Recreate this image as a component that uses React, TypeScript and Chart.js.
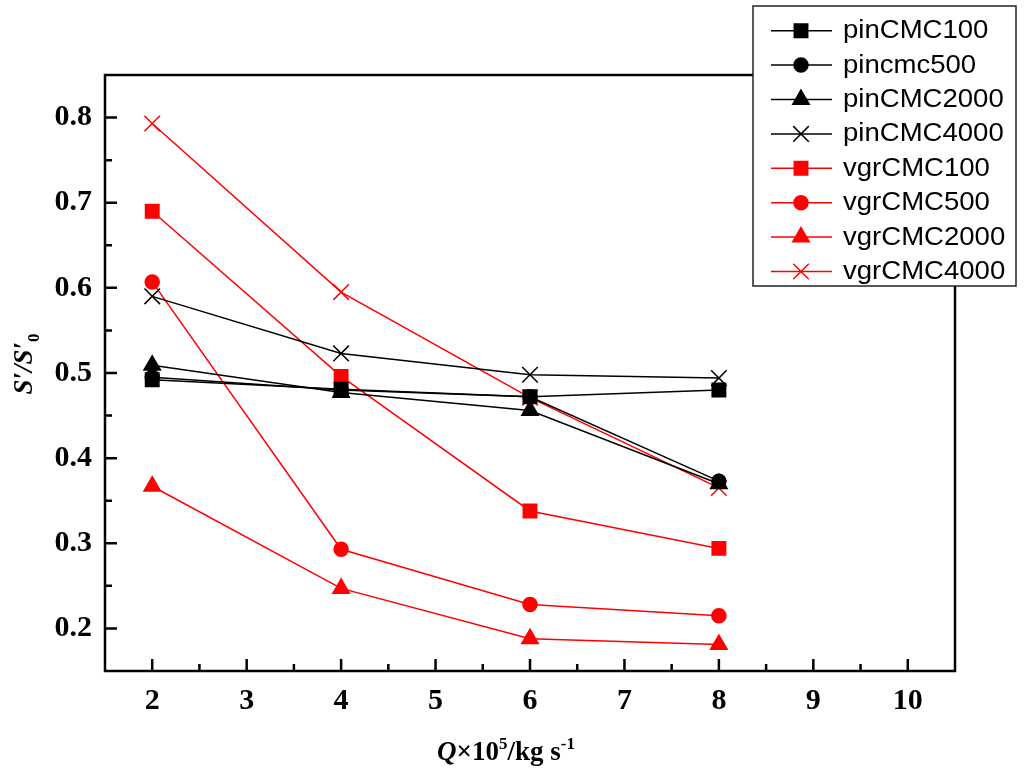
import { useEffect, useRef } from "react";

import { Chart, registerables, type Plugin } from "chart.js";
import { drawPoint } from "chart.js/helpers";

Chart.register(...registerables);

// flow rate Q x 10^5 (kg/s)
const flowRates = [2, 4, 6, 8];

// S'/S'0
const pinCMC100 = [0.492, 0.481, 0.472, 0.48];
const pincmc500 = [0.495, 0.48, 0.472, 0.373];
const pinCMC2000 = [0.509, 0.477, 0.456, 0.37];
const pinCMC4000 = [0.59, 0.523, 0.498, 0.494];
const vgrCMC100 = [0.69, 0.496, 0.338, 0.294];
const vgrCMC500 = [0.607, 0.293, 0.228, 0.215];
const vgrCMC2000 = [0.367, 0.247, 0.188, 0.181];
const vgrCMC4000 = [0.793, 0.595, 0.471, 0.365];

const xTickValues = [2, 3, 4, 5, 6, 7, 8, 9, 10];
const yTickValues = [0.2, 0.3, 0.4, 0.5, 0.6, 0.7, 0.8];

const BLACK = "#000000";
const RED = "#ff0000";

type Marker = "rect" | "circle" | "triangle" | "crossRot";

const markerRadius: Record<Marker, number> = {
  rect: 9.5,
  circle: 7,
  triangle: 9.5,
  crossRot: 11,
};

const series: { label: string; data: number[]; color: string; marker: Marker }[] = [
  { label: "pinCMC100", data: pinCMC100, color: BLACK, marker: "rect" },
  { label: "pincmc500", data: pincmc500, color: BLACK, marker: "circle" },
  { label: "pinCMC2000", data: pinCMC2000, color: BLACK, marker: "triangle" },
  { label: "pinCMC4000", data: pinCMC4000, color: BLACK, marker: "crossRot" },
  { label: "vgrCMC100", data: vgrCMC100, color: RED, marker: "rect" },
  { label: "vgrCMC500", data: vgrCMC500, color: RED, marker: "circle" },
  { label: "vgrCMC2000", data: vgrCMC2000, color: RED, marker: "triangle" },
  { label: "vgrCMC4000", data: vgrCMC4000, color: RED, marker: "crossRot" },
];

const SERIF = "'Liberation Serif', 'Times New Roman', serif";
const SANS = "'Liberation Sans', Arial, sans-serif";

type Run = { t: string; font: string; dy?: number };

function drawRuns(ctx: CanvasRenderingContext2D, runs: Run[], x: number, y: number, center = false) {
  let width = 0;
  for (const r of runs) {
    ctx.font = r.font;
    width += ctx.measureText(r.t).width;
  }
  let cx = center ? x - width / 2 : x;
  ctx.textAlign = "left";
  ctx.textBaseline = "alphabetic";
  for (const r of runs) {
    ctx.font = r.font;
    ctx.fillText(r.t, cx, y + (r.dy ?? 0));
    cx += ctx.measureText(r.t).width;
  }
}

const framePlugin: Plugin<"line"> = {
  id: "frameTicksTitlesLegend",
  afterDraw(chart) {
    const { ctx, chartArea } = chart;
    const { left, right, top, bottom } = chartArea;
    const xs = chart.scales.x;
    const ys = chart.scales.y;

    ctx.save();
    ctx.strokeStyle = BLACK;
    ctx.fillStyle = BLACK;

    // inward tick marks
    ctx.lineWidth = 2.5;
    ctx.beginPath();
    xTickValues.forEach((v, i) => {
      const px = xs.getPixelForValue(v);
      ctx.moveTo(px, bottom);
      ctx.lineTo(px, bottom - 12);
      if (i < xTickValues.length - 1) {
        const mx = xs.getPixelForValue((v + xTickValues[i + 1]) / 2);
        ctx.moveTo(mx, bottom);
        ctx.lineTo(mx, bottom - 7);
      }
    });
    yTickValues.forEach((v, i) => {
      const py = ys.getPixelForValue(v);
      ctx.moveTo(left, py);
      ctx.lineTo(left + 12, py);
      if (i < yTickValues.length - 1) {
        const my = ys.getPixelForValue((v + yTickValues[i + 1]) / 2);
        ctx.moveTo(left, my);
        ctx.lineTo(left + 7, my);
      }
    });
    ctx.stroke();

    // frame
    ctx.lineWidth = 2.5;
    ctx.strokeRect(left, top, right - left, bottom - top);

    // axis titles
    drawRuns(
      ctx,
      [
        { t: "Q", font: `italic bold 27px ${SERIF}` },
        { t: "×10", font: `bold 27px ${SERIF}` },
        { t: "5", font: `bold 17px ${SERIF}`, dy: -11 },
        { t: "/kg s", font: `bold 27px ${SERIF}` },
        { t: "-1", font: `bold 17px ${SERIF}`, dy: -11 },
      ],
      506,
      760,
      true,
    );

    ctx.save();
    ctx.translate(32, 364);
    ctx.rotate(-Math.PI / 2);
    drawRuns(
      ctx,
      [
        { t: "S′/S′", font: `italic bold 27px ${SERIF}` },
        { t: "0", font: `bold 17px ${SERIF}`, dy: 7 },
      ],
      0,
      0,
      true,
    );
    ctx.restore();

    // legend box
    const bx = 753;
    const by = 6;
    const bw = 263;
    const bh = 280;
    ctx.fillStyle = "#ffffff";
    ctx.fillRect(bx, by, bw, bh);
    ctx.strokeStyle = "#222222";
    ctx.lineWidth = 1.5;
    ctx.strokeRect(bx, by, bw, bh);

    series.forEach((s, i) => {
      const ry = 30.7 + i * 34.4;
      ctx.strokeStyle = s.color;
      ctx.fillStyle = s.color;
      ctx.lineWidth = 1.5;
      ctx.beginPath();
      ctx.moveTo(771, ry);
      ctx.lineTo(832, ry);
      ctx.stroke();
      drawPoint(
        ctx,
        { pointStyle: s.marker, radius: markerRadius[s.marker], rotation: 0, borderWidth: 1.5 },
        801,
        ry,
      );
      ctx.save();
      ctx.fillStyle = BLACK;
      ctx.font = `25.5px ${SANS}`;
      ctx.textAlign = "left";
      ctx.textBaseline = "middle";
      ctx.translate(843, ry + 0.5);
      ctx.scale(1.08, 1);
      ctx.fillText(s.label, 0, 0);
      ctx.restore();
    });

    ctx.restore();
  },
};

function SlipRatioChart() {
  const canvasRef = useRef<HTMLCanvasElement>(null);
  const chartRef = useRef<Chart<"line"> | null>(null);

  useEffect(() => {
    if (!canvasRef.current) return;
    if (chartRef.current) chartRef.current.destroy();

    chartRef.current = new Chart(canvasRef.current, {
      type: "line",
      data: {
        datasets: series.map((s) => ({
          label: s.label,
          data: flowRates.map((x, i) => ({ x, y: s.data[i] })),
          borderColor: s.color,
          backgroundColor: s.color,
          borderWidth: 1.5,
          pointStyle: s.marker,
          pointRadius: markerRadius[s.marker],
          pointBorderWidth: 1.5,
          pointBorderColor: s.color,
          pointBackgroundColor: s.color,
          tension: 0,
          fill: false,
        })),
      },
      options: {
        responsive: true,
        maintainAspectRatio: false,
        animation: false,
        layout: { padding: { top: 75, right: 69, left: 0, bottom: 0 } },
        plugins: {
          legend: { display: false },
          tooltip: { enabled: false },
        },
        scales: {
          x: {
            type: "linear",
            min: 1.5,
            max: 10.5,
            afterBuildTicks: (scale) => {
              scale.ticks = xTickValues.map((value) => ({ value }));
            },
            afterFit: (scale) => {
              scale.height = 105;
            },
            grid: { display: false, drawTicks: false },
            border: { display: false },
            ticks: {
              color: BLACK,
              padding: 12,
              autoSkip: false,
              maxRotation: 0,
              font: { family: SERIF, weight: "bold", size: 30 },
              callback: (v) => String(v),
            },
          },
          y: {
            type: "linear",
            min: 0.15,
            max: 0.85,
            afterBuildTicks: (scale) => {
              scale.ticks = yTickValues.map((value) => ({ value }));
            },
            afterFit: (scale) => {
              scale.width = 105;
            },
            grid: { display: false, drawTicks: false },
            border: { display: false },
            ticks: {
              color: BLACK,
              padding: 13,
              autoSkip: false,
              font: { family: SERIF, weight: "bold", size: 30 },
              callback: (v) => Number(v).toFixed(1),
            },
          },
        },
      },
      plugins: [framePlugin],
    });

    return () => chartRef.current?.destroy();
  }, []);

  return <canvas ref={canvasRef} role="img" aria-label="Line chart of S'/S'0 against flow rate Q for pin and vgr CMC solutions" />;
}

export default function App() {
  return (
    <div style={{ position: "absolute", left: 0, top: 0, width: 1024, height: 776, background: "#ffffff" }}>
      <SlipRatioChart />
    </div>
  );
}
